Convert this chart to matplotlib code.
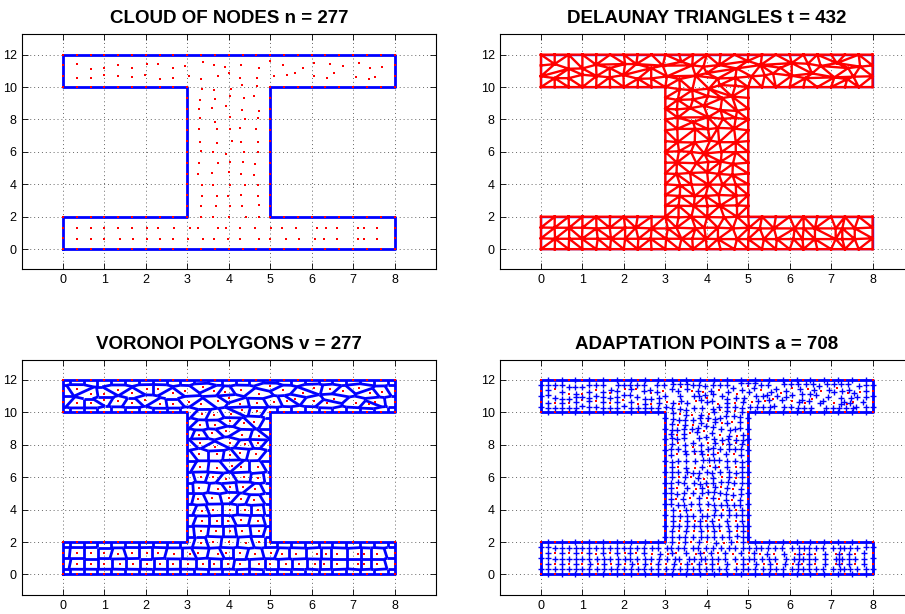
import numpy as np
import matplotlib
matplotlib.use('Agg')
import matplotlib.pyplot as plt
import matplotlib.tri as mtri
from matplotlib.collections import LineCollection
from matplotlib.patches import Polygon

plt.rcParams['font.family'] = ['Liberation Sans', 'DejaVu Sans']

# I-section outline (corners, counter-clockwise)
outline_x = [0, 8, 8, 5, 5, 8, 8, 0, 0, 3, 3, 0, 0]
outline_y = [0, 0, 2, 2, 10, 10, 12, 12, 10, 10, 2, 2, 0]

# boundary node stations: flanges every 1/3, vertical edges every 2/3
flange_x = [0.0, 0.333, 0.667, 1.0, 1.333, 1.667, 2.0, 2.333, 2.667, 3.0, 3.333, 3.667,
            4.0, 4.333, 4.667, 5.0, 5.333, 5.667, 6.0, 6.333, 6.667, 7.0, 7.333, 7.667, 8.0]
side_y = [0.0, 0.667, 1.333, 2.0, 10.0, 10.667, 11.333, 12.0]
web_y = [2.0, 2.667, 3.333, 4.0, 4.667, 5.333, 6.0, 6.667, 7.333, 8.0, 8.667, 9.333, 10.0]

# interior nodes - top flange
top_x = [0.33, 0.67, 1.00, 1.33, 1.66, 2.03, 2.30, 2.66, 2.94, 3.39, 3.65, 3.92, 4.30, 4.72,
         4.99, 5.30, 5.78, 6.05, 6.44, 6.75, 7.14, 7.41, 7.70,
         0.33, 0.67, 1.00, 1.34, 1.66, 1.99, 2.34, 2.66, 3.04, 3.34, 3.73, 4.00, 4.27, 4.69,
         5.08, 5.40, 5.60, 6.05, 6.38, 6.54, 7.08, 7.39, 7.54]
top_y = [11.42, 11.13, 11.15, 11.38, 11.17, 11.42, 11.42, 11.17, 11.32, 11.56, 11.34, 11.26,
         11.36, 11.15, 11.61, 11.36, 11.19, 11.48, 11.44, 11.30, 11.48, 11.17, 11.26,
         10.55, 10.55, 10.76, 10.68, 10.60, 10.74, 10.51, 10.53, 10.66, 10.49, 10.70, 10.86,
         10.53, 10.57, 10.66, 10.72, 10.84, 10.70, 10.55, 10.84, 10.60, 10.49, 10.64]

# interior nodes - web
web_x = [3.35, 3.65, 4.05, 4.31, 4.69,
         3.30, 3.67, 4.03, 4.37, 4.61,
         3.28, 3.60, 3.93, 4.33, 4.73,
         3.30, 3.67, 4.03, 4.39, 4.70,
         3.29, 3.72, 4.03, 4.27, 4.66,
         3.30, 3.71, 4.08, 4.30, 4.70,
         3.33, 3.62, 3.94, 4.36, 4.70,
         3.28, 3.75, 4.04, 4.34, 4.63,
         3.27, 3.60, 4.01, 4.29, 4.62,
         3.36, 3.63, 4.04, 4.38, 4.70,
         3.35, 3.71, 3.97, 4.29, 4.71,
         3.32, 3.69, 4.02, 4.32, 4.73,
         3.32, 3.63, 4.01, 4.42, 4.73]
web_yy = [9.87, 9.81, 9.90, 10.12, 10.08,
          9.21, 9.24, 9.44, 9.32, 9.42,
          8.62, 8.70, 8.84, 8.58, 8.53,
          8.12, 7.85, 8.14, 8.04, 8.10,
          7.42, 7.42, 7.40, 7.48, 7.44,
          6.60, 6.58, 6.70, 6.60, 6.60,
          6.04, 6.00, 5.90, 6.00, 5.98,
          5.34, 5.30, 5.38, 5.40, 5.26,
          4.64, 4.70, 4.74, 4.64, 4.58,
          3.94, 3.98, 3.98, 3.98, 3.98,
          3.28, 3.28, 3.28, 3.34, 3.30,
          2.68, 2.66, 2.66, 2.68, 2.70,
          1.96, 2.00, 1.98, 1.96, 2.00]

# interior nodes - bottom flange
bot_x = [0.33, 0.68, 1.00, 1.34, 1.66, 2.03, 2.29, 2.67, 3.06, 3.27, 3.73, 3.94,
         4.27, 4.63, 5.02, 5.28, 5.62, 6.12, 6.34, 6.61, 7.11, 7.27, 7.57,
         0.34, 0.68, 0.99, 1.37, 1.69, 2.03, 2.35, 2.65, 3.02, 3.39, 3.65, 3.98,
         4.27, 4.73, 5.00, 5.38, 5.69, 6.09, 6.31, 6.61, 7.11, 7.27, 7.57]
bot_y = [1.32, 1.32, 1.32, 1.28, 1.32, 1.32, 1.32, 1.28, 1.28, 1.32, 1.28, 1.32,
         1.32, 1.28, 1.32, 1.28, 1.28, 1.28, 1.28, 1.28, 1.28, 1.28, 1.28,
         0.64, 0.64, 0.64, 0.64, 0.64, 0.64, 0.64, 0.64, 0.64, 0.64, 0.64, 0.64,
         0.62, 0.62, 0.62, 0.62, 0.62, 0.62, 0.62, 0.62, 0.62, 0.62, 0.62]

# assemble the boundary nodes (dropping shared corners)
bnd = [(x, 0.0) for x in flange_x] + [(x, 12.0) for x in flange_x]
bnd += [(x, 2.0) for x in flange_x if x <= 3 or x >= 5]
bnd += [(x, 10.0) for x in flange_x if x <= 3 or x >= 5]
bnd += [(0.0, y) for y in side_y] + [(8.0, y) for y in side_y]
bnd += [(3.0, y) for y in web_y] + [(5.0, y) for y in web_y]
seen = {}
for p in bnd:
    seen.setdefault((round(p[0], 3), round(p[1], 3)), p)
bnd = list(seen.values())

x = np.array([p[0] for p in bnd] + top_x + web_x + bot_x)
y = np.array([p[1] for p in bnd] + top_y + web_yy + bot_y)


def inside(px, py):
    flange = (px >= 0) & (px <= 8) & (((py >= 0) & (py <= 2)) | ((py >= 10) & (py <= 12)))
    web = (px >= 3) & (px <= 5) & (py >= 2) & (py <= 10)
    return flange | web


tri = mtri.Triangulation(x, y)
cx = x[tri.triangles].mean(axis=1)
cy = y[tri.triangles].mean(axis=1)
tri.set_mask(~inside(cx, cy))
tris = tri.triangles[~tri.mask]
edges = tri.edges
mid_x = (x[edges[:, 0]] + x[edges[:, 1]]) / 2
mid_y = (y[edges[:, 0]] + y[edges[:, 1]]) / 2

# circumcentres of the kept triangles
ax_, ay_ = x[tris[:, 0]], y[tris[:, 0]]
bx_, by_ = x[tris[:, 1]], y[tris[:, 1]]
qx_, qy_ = x[tris[:, 2]], y[tris[:, 2]]
d = 2 * (ax_ * (by_ - qy_) + bx_ * (qy_ - ay_) + qx_ * (ay_ - by_))
ccx = ((ax_**2 + ay_**2) * (by_ - qy_) + (bx_**2 + by_**2) * (qy_ - ay_) + (qx_**2 + qy_**2) * (ay_ - by_)) / d
ccy = ((ax_**2 + ay_**2) * (qx_ - bx_) + (bx_**2 + by_**2) * (ax_ - qx_) + (qx_**2 + qy_**2) * (bx_ - ax_)) / d

# voronoi edges: dual of the delaunay edges
owner = {}
for k, t in enumerate(tris):
    for j in range(3):
        e = tuple(sorted((t[j], t[(j + 1) % 3])))
        owner.setdefault(e, []).append(k)
vor_segs = []
for e, ks in owner.items():
    if len(ks) == 2:
        vor_segs.append([(ccx[ks[0]], ccy[ks[0]]), (ccx[ks[1]], ccy[ks[1]])])
    else:
        k = ks[0]
        vor_segs.append([(ccx[k], ccy[k]), ((x[e[0]] + x[e[1]]) / 2, (y[e[0]] + y[e[1]]) / 2)])

n_nodes = len(x)
n_tri = len(tris)
n_adapt = len(edges)

fig = plt.figure(figsize=(9.05, 6.14), dpi=100)
W, H = 905.0, 614.0
boxes = [(21.5, 34.4), (499.5, 34.4), (21.5, 359.7), (499.5, 359.7)]
axs = [fig.add_axes([l / W, 1 - (t + 235) / H, 414.5 / W, 235 / H]) for l, t in boxes]


def style(ax, title):
    ax.set_xlim(-1, 9)
    ax.set_ylim(-1.25, 13.25)
    ax.set_xticks(range(0, 9))
    ax.set_yticks(range(0, 13, 2))
    ax.grid(True, color='0.4', linestyle=(0, (1, 3)), linewidth=0.7)
    ax.set_axisbelow(True)
    ax.tick_params(direction='in', top=True, right=True, length=4, width=0.6, labelsize=9)
    for s in ax.spines.values():
        s.set_linewidth(0.8)
    ax.set_title(title, fontsize=13.5, fontweight='bold', pad=8)


ax = axs[0]
ax.plot(outline_x, outline_y, color='blue', lw=2.0)
ax.plot(x, y, 's', color='red', ms=2.1, mew=0)
style(ax, 'CLOUD OF NODES n = %d' % n_nodes)

ax = axs[1]
ax.plot(outline_x, outline_y, color='blue', lw=1.0, zorder=1)
ax.triplot(tri, color='red', lw=1.7, zorder=2)
style(ax, 'DELAUNAY TRIANGLES t = %d' % n_tri)

ax = axs[2]
clip = Polygon(np.column_stack([outline_x, outline_y]), closed=True, transform=ax.transData)
lc = LineCollection(vor_segs, colors='blue', linewidths=2.0)
ax.add_collection(lc)
lc.set_clip_path(clip)
ax.plot(outline_x, outline_y, color='blue', lw=2.0)
ax.plot(x, y, 's', color='red', ms=1.7, mew=0)
style(ax, 'VORONOI POLYGONS v = %d' % n_nodes)

ax = axs[3]
ax.plot(outline_x, outline_y, color='blue', lw=2.0)
ax.plot(x, y, 's', color='red', ms=1.7, mew=0)
ax.plot(mid_x, mid_y, '+', color='blue', ms=4.3, mew=1.0)
style(ax, 'ADAPTATION POINTS a = %d' % n_adapt)

fig.savefig('out.png', dpi=100)
